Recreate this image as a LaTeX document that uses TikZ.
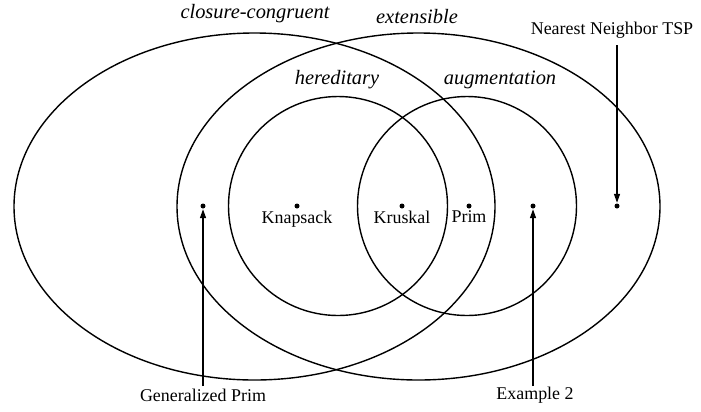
\documentclass[tikz,border=0pt]{standalone}
\usepackage{fontspec}
\setmainfont{Liberation Serif}
\usetikzlibrary{arrows.meta}
\begin{document}
\begin{tikzpicture}[x=1bp,y=-1bp,line width=1.4bp,
  setlabel/.style={font=\fontsize{20.5}{24}\selectfont\itshape,inner sep=0pt},
  elemlabel/.style={font=\fontsize{18}{21}\selectfont,inner sep=0pt},
  pt/.style={circle,fill=black,inner sep=0pt,minimum size=5bp},
  ptr/.style={-{Triangle[length=9bp,width=6bp]}}]
\useasboundingbox (0,0) rectangle (701,411);
% sets
\draw (254.5,206.5) ellipse [x radius=240.5,y radius=173.5];
\draw (418.5,206.5) ellipse [x radius=241.5,y radius=173.5];
\draw (338,206) circle [radius=109.5];
\draw (467,206) circle [radius=109.5];
% set labels
\node[setlabel] (lcc) at (255,14) {closure-congruent};
\node[setlabel] (lext) at (417,17) {extensible};
\node[setlabel] (lher) at (337,80) {hereditary};
\node[setlabel] (laug) at (500,80) {augmentation};
% elements
\node[pt] (gp) at (203,206) {};
\node[pt] (kn) at (297,206) {};
\node[pt] (kr) at (402,206) {};
\node[pt] (pr) at (469,206) {};
\node[pt] (ex) at (533,206) {};
\node[pt] (nn) at (617,206) {};
\node[elemlabel,anchor=north] (lkn) at (297,210) {Knapsack};
\node[elemlabel,anchor=north] (lkr) at (402,210) {Kruskal};
\node[elemlabel,anchor=north] (lpr) at (469,210) {Prim};
\node[elemlabel] (lgp) at (203,395) {Generalized Prim};
\node[elemlabel] (lex) at (535,395) {Example 2};
\node[elemlabel] (lnn) at (612,30) {Nearest Neighbor TSP};
% pointers
\coordinate (gps) at (203,386);
\coordinate (exs) at (533,386);
\coordinate (nns) at (617,45);
\draw[ptr] (gps) -- (gp);
\draw[ptr] (exs) -- (ex);
\draw[ptr] (nns) -- (nn);
\end{tikzpicture}
\end{document}
